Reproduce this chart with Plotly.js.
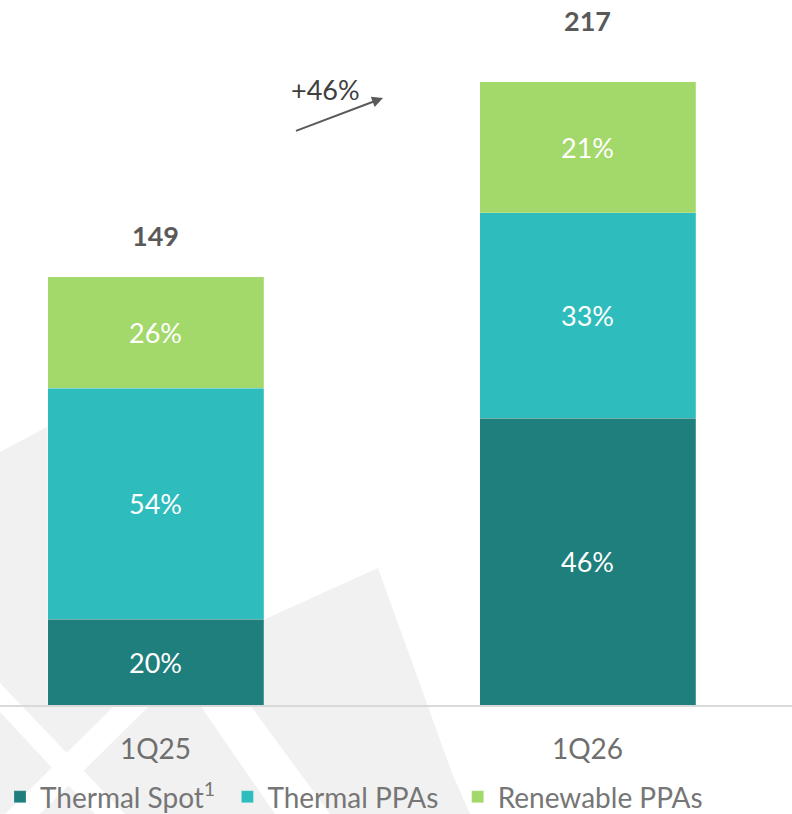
<!DOCTYPE html>
<html>
<head>
<meta charset="utf-8">
<script src="https://cdn.plot.ly/plotly-3.0.1.min.js"></script>
<style>html,body{margin:0;padding:0;background:#fff;}#chart{width:792px;height:814px;}</style>
</head>
<body>
<div id="chart"></div>
<script>
// ---- data ----
const quarters = ["1Q25", "1Q26"];
const totals = [149, 217];
const thermalSpot = [29.8, 99.8];
const thermalPPAs = [80.5, 71.6];
const renewablePPAs = [38.7, 45.6];
const thermalSpotPct = ["20%", "46%"];
const thermalPPAsPct = ["54%", "33%"];
const renewablePPAsPct = ["26%", "21%"];
const growthLabel = "+46%";

const FONT = "Lato, 'Open Sans', sans-serif";
const W = 792, H = 814, B = 109;
const plotH = H - B;
const pxPerUnit = 2.873;

function barTrace(name, y, txt, color) {
  return {
    type: "bar", name: name, x: quarters, y: y, text: txt,
    textposition: "inside", insidetextanchor: "middle",
    textfont: {family: FONT, size: 27, color: "#ffffff"},
    marker: {color: color, line: {color: "rgba(255,255,255,0.35)", width: 0.6}},
    width: 0.5, hoverinfo: "skip"
  };
}

const data = [
  barTrace("Thermal Spot<sup>1</sup>&nbsp;", thermalSpot, thermalSpotPct, "#1f7f7c"),
  barTrace("Thermal PPAs&nbsp;&nbsp;", thermalPPAs, thermalPPAsPct, "#2ebcbd"),
  barTrace("Renewable PPAs", renewablePPAs, renewablePPAsPct, "#a3d86b")
];

const totalShift = [41, 61];
const annotations = quarters.map((q, i) => ({
  x: q, y: totals[i], xref: "x", yref: "y", yshift: totalShift[i],
  text: "<b>" + totals[i] + "</b>", showarrow: false,
  font: {family: FONT, size: 27, color: "#595959"}
}));
annotations.push({
  xref: "paper", yref: "paper", x: 383 / W, y: (plotH - 98) / plotH,
  axref: "pixel", ayref: "pixel", ax: -90, ay: 34,
  showarrow: true, arrowhead: 2, arrowsize: 1.1, arrowwidth: 2, arrowcolor: "#595959", text: " "
});
annotations.push({
  xref: "paper", yref: "paper", x: 325 / W, y: (plotH - 71) / plotH,
  text: growthLabel, showarrow: false,
  font: {family: FONT, size: 27, color: "#404040"}
});

function P(x, y) { return (x / W) + "," + ((plotH - y) / plotH); }
function path(pts) { return "M" + pts.map(p => P(p[0], p[1])).join(" L") + " Z"; }
const gray = "#f1f1f1";
function poly(pts, color) {
  return {type: "path", xref: "paper", yref: "paper", layer: "below", line: {width: 0}, fillcolor: color, path: path(pts)};
}
const shapes = [
  poly([[0,452],[150,372],[263,372],[263,620],[378,568],[452,773],[470,814],[0,814]], gray),
  poly([[0,683],[0,712],[95,814],[125,814]], "#ffffff"),
  poly([[115,705],[150,705],[40,814],[5,814]], "#ffffff"),
  poly([[200,705],[250,705],[330,814],[275,814]], "#ffffff")
];

const layout = {
  width: W, height: H,
  margin: {l: 0, r: 0, t: 0, b: B, autoexpand: false},
  paper_bgcolor: "rgba(0,0,0,0)", plot_bgcolor: "rgba(0,0,0,0)",
  barmode: "stack",
  font: {family: FONT},
  showlegend: true,
  legend: {orientation: "h", x: 0, xanchor: "left", xref: "container", yref: "container",
           y: (H - 772) / H, yanchor: "top",
           font: {family: FONT, size: 28, color: "#767676"}, traceorder: "normal",
           bgcolor: "rgba(0,0,0,0)", itemclick: false},
  xaxis: {type: "category", range: [-0.36, 1.4733], showline: true, linecolor: "#d9d9d9", linewidth: 2,
          showgrid: false, zeroline: false, ticks: "", ticklabelstandoff: 18,
          tickfont: {family: FONT, size: 28, color: "#6f6f6f"}, fixedrange: true},
  yaxis: {range: [0, plotH / pxPerUnit], visible: false, showgrid: false, zeroline: false, fixedrange: true},
  annotations: annotations,
  shapes: shapes
};

Plotly.newPlot("chart", data, layout, {displayModeBar: false, staticPlot: true});
</script>
</body>
</html>
